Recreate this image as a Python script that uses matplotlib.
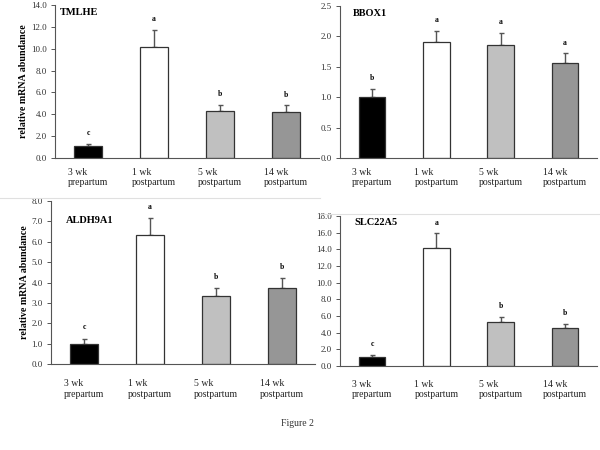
import matplotlib
matplotlib.use("Agg")
import matplotlib.pyplot as plt
from matplotlib.lines import Line2D

plt.rcParams['font.family'] = ['Liberation Serif', 'DejaVu Serif']

# categories shared by all four panels
categories = ["3 wk\nprepartum", "1 wk\npostpartum", "5 wk\npostpartum", "14 wk\npostpartum"]
bar_colors = ["#000000", "#ffffff", "#c0c0c0", "#969696"]

# TMLHE
tmlhe_mean = [1.05, 10.15, 4.3, 4.2]
tmlhe_err = [0.25, 1.55, 0.55, 0.6]
tmlhe_sig = ["c", "a", "b", "b"]

# BBOX1
bbox1_mean = [1.0, 1.91, 1.85, 1.56]
bbox1_err = [0.14, 0.18, 0.2, 0.16]
bbox1_sig = ["b", "a", "a", "a"]

# ALDH9A1
aldh_mean = [1.0, 6.32, 3.33, 3.72]
aldh_err = [0.24, 0.84, 0.39, 0.49]
aldh_sig = ["c", "a", "b", "b"]

# SLC22A5
slc_mean = [1.04, 14.2, 5.27, 4.55]
slc_err = [0.28, 1.7, 0.6, 0.52]
slc_sig = ["c", "a", "b", "b"]

panels = [
    # name, mean, err, sig, ymax, ystep, rect, ylabel, title pos, xlabel pad
    ("TMLHE", tmlhe_mean, tmlhe_err, tmlhe_sig, 14.0, 2.0,
     [0.0917, 0.649, 0.44, 0.34], True, (0.02, 0.948), 7),
    ("BBOX1", bbox1_mean, bbox1_err, bbox1_sig, 2.5, 0.5,
     [0.5667, 0.649, 0.4283, 0.3378], False, (0.05, 0.947), 7),
    ("ALDH9A1", aldh_mean, aldh_err, aldh_sig, 8.0, 1.0,
     [0.085, 0.191, 0.44, 0.3622], True, (0.057, 0.883), 11),
    ("SLC22A5", slc_mean, slc_err, slc_sig, 18.0, 2.0,
     [0.5667, 0.1867, 0.4283, 0.3333], False, (0.055, 0.955), 10),
]

fig = plt.figure(figsize=(6, 4.5), dpi=100)

for name, mean, err, sig, ymax, ystep, rect, has_ylabel, tpos, xpad in panels:
    ax = fig.add_axes(rect)
    x = list(range(len(categories)))
    ax.bar(x, mean, width=0.41, color=bar_colors, edgecolor="#333333",
           linewidth=0.9, zorder=2)
    ax.errorbar(x, mean, yerr=[[0] * len(err), err], fmt="none",
                ecolor="#555555", elinewidth=1.0, capsize=1.8,
                capthick=1.0, zorder=1)
    for xi, m, e, s in zip(x, mean, err, sig):
        ax.text(xi, m + e + ymax * 0.045, s, ha="center", va="bottom",
                fontsize=5.5, fontweight="bold")
    ax.set_xlim(-0.5, 3.5)
    ax.set_ylim(0, ymax)
    ticks = [i * ystep for i in range(int(round(ymax / ystep)) + 1)]
    ax.set_yticks(ticks)
    ax.set_yticklabels(["%.1f" % t for t in ticks], fontsize=6.5, color="#333333")
    ax.set_xticks(x)
    ax.set_xticklabels(categories, fontsize=7, multialignment="left",
                       color="#222222")
    ax.tick_params(axis="x", length=0, pad=xpad)
    ax.tick_params(axis="y", direction="out", length=3, width=0.7,
                   color="#555555", pad=3)
    for side in ["top", "right"]:
        ax.spines[side].set_visible(False)
    ax.spines["left"].set_color("#555555")
    ax.spines["bottom"].set_color("#555555")
    ax.spines["left"].set_linewidth(0.8)
    ax.spines["bottom"].set_linewidth(0.8)
    ax.text(tpos[0], tpos[1], name, transform=ax.transAxes, ha="left",
            va="center", fontsize=7.5, fontweight="bold")
    if has_ylabel:
        ax.set_ylabel("relative mRNA abundance", fontsize=7.2, fontweight="bold",
                      labelpad=2)

# faint panel separators
fig.add_artist(Line2D([0.0, 0.533], [0.56, 0.56], color="#e0e0e0", lw=0.8))
fig.add_artist(Line2D([0.533, 1.0], [0.524, 0.524], color="#e0e0e0", lw=0.8))

fig.text(0.495, 0.058, "Figure 2", ha="center", va="center", fontsize=7,
         color="#333333")

fig.savefig("out.png", dpi=100)
